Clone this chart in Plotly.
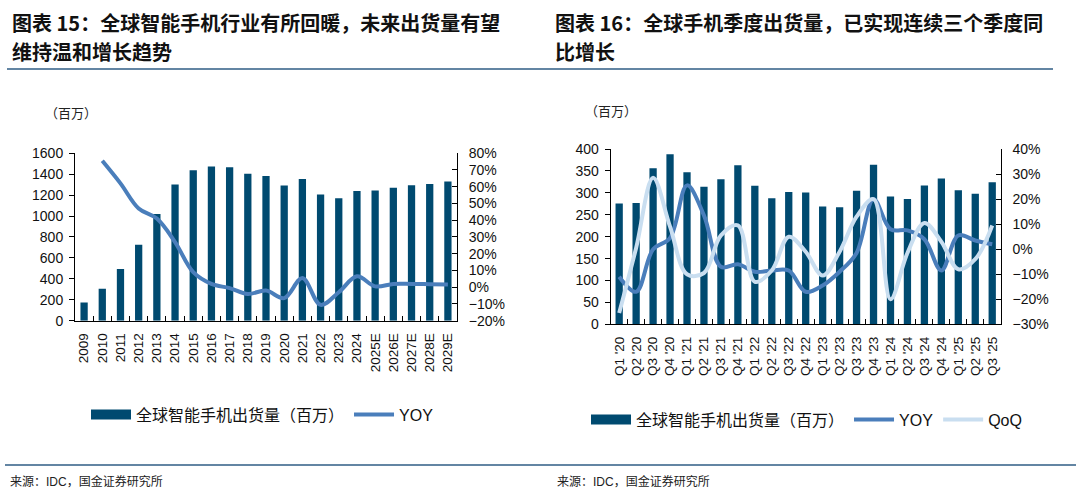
import plotly.graph_objects as go

# ---------------- data ----------------
years = ["2009", "2010", "2011", "2012", "2013", "2014", "2015", "2016", "2017", "2018",
         "2019", "2020", "2021", "2022", "2023", "2024", "2025E", "2026E", "2027E", "2028E", "2029E"]
annual_ship = [174, 305, 494, 725, 1019, 1301, 1437, 1473, 1465, 1405,
               1383, 1292, 1355, 1206, 1170, 1240, 1245, 1270, 1295, 1305, 1330]
annual_yoy = [None, 75.5, 62, 47, 41, 27, 9, 2, -0.5, -4,
              -2, -6.5, 5.5, -10.5, -3, 6.5, 0.5, 2, 2, 1.8, 1.6]

quarters = ["Q1 '20", "Q2 '20", "Q3 '20", "Q4 '20", "Q1 '21", "Q2 '21", "Q3 '21", "Q4 '21",
            "Q1 '22", "Q2 '22", "Q3 '22", "Q4 '22", "Q1 '23", "Q2 '23", "Q3 '23", "Q4 '23",
            "Q1 '24", "Q2 '24", "Q3 '24", "Q4 '24", "Q1 '25", "Q2 '25", "Q3 '25"]
q_ship = [276, 277, 356, 388, 347, 314, 331, 363, 316, 288, 302, 301,
          269, 267, 305, 364, 292, 286, 317, 333, 306, 298, 324]
q_yoy = [-11, -17, 0, 4.5, 25.5, 13.5, -7, -6, -9, -8.5, -8.5, -17,
         -14.5, -9, -1.5, 20, 8, 7.5, 4, -8.5, 5.5, 3.5, 2]
q_qoq = [-25.5, 0.5, 28.5, 9, -10, -9.5, 5.5, 9.5, -13, -8.5, 5, -1,
         -10.5, -1, 13, 20, -20, -1.5, 10.5, 3, -8, -4, 9.5]

left_ticks_y = [0, 200, 400, 600, 800, 1000, 1200, 1400, 1600]
ship_name = "全球智能手机出货量（百万）"

# ---------------- style ----------------
W, H = 1080, 504
BAR = "#004A70"
YOY_C = "#4A7EBB"
QOQ_C = "#C9DEF0"
LAT = "Liberation Sans, Arial, sans-serif"
CJK = "Noto Sans CJK SC, sans-serif"
MIX = "Liberation Sans, Noto Sans CJK SC, sans-serif"
RULE = "#2F5D85"


def px(x):
    return x / W


def py(y):
    return 1 - y / H


fig = go.Figure()
# legend swatch for the bars (wide box like the original legend)
fig.add_trace(go.Scatter(x=[None], y=[None], name=ship_name, mode="lines",
                         line=dict(color=BAR, width=11), xaxis="x", yaxis="y", legend="legend",
                         hoverinfo="skip"))
fig.add_trace(go.Bar(x=years, y=annual_ship, name=ship_name, showlegend=False,
                     marker=dict(color=BAR, line=dict(width=0)), width=0.4,
                     xaxis="x", yaxis="y"))
fig.add_trace(go.Scatter(x=years, y=annual_yoy, name="YOY", mode="lines",
                         line=dict(color=YOY_C, width=4, shape="spline"),
                         xaxis="x", yaxis="y2", legend="legend"))

fig.add_trace(go.Scatter(x=[None], y=[None], name=ship_name, mode="lines",
                         line=dict(color=BAR, width=11), xaxis="x2", yaxis="y3", legend="legend2",
                         hoverinfo="skip"))
fig.add_trace(go.Bar(x=quarters, y=q_ship, name=ship_name, showlegend=False,
                     marker=dict(color=BAR, line=dict(width=0)), width=0.43,
                     xaxis="x2", yaxis="y3"))
fig.add_trace(go.Scatter(x=quarters, y=q_yoy, name="YOY", mode="lines",
                         line=dict(color=YOY_C, width=4, shape="spline"),
                         xaxis="x2", yaxis="y4", legend="legend2"))
fig.add_trace(go.Scatter(x=quarters, y=q_qoq, name="QoQ", mode="lines",
                         line=dict(color=QOQ_C, width=4, shape="spline"),
                         xaxis="x2", yaxis="y4", legend="legend2"))

axis_common = dict(showline=True, linecolor="black", linewidth=1, showgrid=False,
                   zeroline=False, tickcolor="black", tickfont=dict(family=LAT, size=14, color="#111"))
xcommon = dict(axis_common, type="category", ticks="inside", ticklen=5, tickson="boundaries",
               tickangle=-90, tickfont=dict(family=LAT, size=13.5, color="#111"),
               ticklabelstandoff=6)

fig.update_layout(
    width=W, height=H, margin=dict(l=0, r=0, t=0, b=0),
    paper_bgcolor="white", plot_bgcolor="white", bargap=0.5,
    xaxis=dict(xcommon, domain=[px(75), px(457)], anchor="y"),
    yaxis=dict(axis_common, domain=[py(323), py(150)], range=[0, 1600], tickvals=left_ticks_y,
               ticks="outside", ticklen=5, anchor="x", ticklabelstandoff=3),
    yaxis2=dict(axis_common, overlaying="y", side="right", anchor="x", range=[-20, 80], dtick=10,
                ticksuffix="%", ticks="inside", ticklen=5, ticklabelstandoff=8),
    xaxis2=dict(xcommon, domain=[px(610.7), px(1000.7)], anchor="y3"),
    yaxis3=dict(axis_common, domain=[py(326.7), py(145.7)], range=[0, 400], dtick=50,
                ticks="outside", ticklen=5, anchor="x2", ticklabelstandoff=3),
    yaxis4=dict(axis_common, overlaying="y3", side="right", anchor="x2", range=[-30, 40], dtick=10,
                ticksuffix="%", ticks="inside", ticklen=5, ticklabelstandoff=8),
    legend=dict(orientation="h", x=px(86), y=py(420), xanchor="left", yanchor="middle",
                font=dict(family=MIX, size=16, color="#111"), itemwidth=40,
                bgcolor="rgba(0,0,0,0)", traceorder="normal"),
    legend2=dict(orientation="h", x=px(586), y=py(425), xanchor="left", yanchor="middle",
                 font=dict(family=MIX, size=16, color="#111"), itemwidth=40,
                 bgcolor="rgba(0,0,0,0)", traceorder="normal"),
    showlegend=True,
)

title_font = dict(family=CJK, size=20, color="#111")
annos = [
    (10, 15, "<b>图表 15：全球智能手机行业有所回暖，未来出货量有望</b>", title_font),
    (10, 45, "<b>维持温和增长趋势</b>", title_font),
    (553, 15, "<b>图表 16：全球手机季度出货量，已实现连续三个季度同</b>", title_font),
    (553, 45, "<b>比增长</b>", title_font),
    (43, 108, "（百万）", dict(family=CJK, size=13, color="#222")),
    (583, 106, "（百万）", dict(family=CJK, size=13, color="#222")),
    (8, 489, "来源：IDC，国金证券研究所", dict(family=MIX, size=12, color="#222")),
    (555, 489, "来源：IDC，国金证券研究所", dict(family=MIX, size=12, color="#222")),
]
for x, y, t, f in annos:
    fig.add_annotation(x=px(x), y=py(y), xref="paper", yref="paper", text=t, showarrow=False,
                       xanchor="left", yanchor="middle", font=f)

fig.add_shape(type="line", xref="paper", yref="paper", x0=px(7), x1=px(1053), y0=py(63), y1=py(63),
              line=dict(color=RULE, width=1.5))
fig.add_shape(type="line", xref="paper", yref="paper", x0=px(5), x1=px(1076), y0=py(472), y1=py(472),
              line=dict(color=RULE, width=1.5))

fig.write_html(
    "out.html",
    config={"displayModeBar": False, "responsive": False},
    post_script="document.body.style.margin='0';",
)
